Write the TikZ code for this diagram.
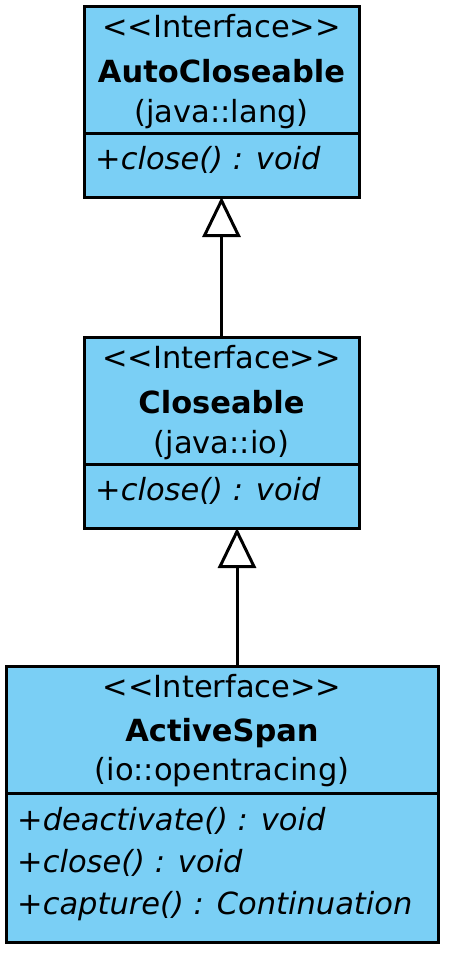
\documentclass[tikz,border=0pt]{standalone}
\usepackage{fontspec}
\setmainfont{DejaVu Sans}
\usetikzlibrary{arrows.meta}
\definecolor{umlblue}{RGB}{122,207,245}

\begin{document}
\begin{tikzpicture}[x=1pt,y=-1pt,
  classbox/.style={draw,line width=3pt,fill=umlblue,inner sep=0pt,outer sep=0pt},
  stereo/.style={anchor=base,inner sep=0pt,font=\fontsize{30.5}{36}\selectfont},
  cname/.style={stereo,font=\fontsize{30.5}{36}\selectfont\bfseries},
  oper/.style={anchor=base west,inner sep=0pt,font=\fontsize{30.5}{36}\selectfont\itshape},
  sepline/.style={line width=3pt},
  realize/.style={line width=3pt,-{Triangle[open,length=40pt,width=38pt,fill=white]}}]
  \useasboundingbox (0,0) rectangle (450,954);

  % AutoCloseable
  \node[classbox,minimum width=275pt,minimum height=191pt] (ac) at (221.5,101.5) {};
  \coordinate (acsep) at (0,133);
  \path[draw,sepline] (ac.west |- acsep) -- (ac.east |- acsep);
  \node[stereo] (acst) at (221.5,37) {<\kern0pt<Interface>\kern0pt>};
  \node[cname] (acnm) at (221.5,82) {AutoCloseable};
  \node[stereo] (acpk) at (221.5,122) {(java::lang)};
  \node[oper] (acop) at (95,169) {+close() : void};

  % Closeable
  \node[classbox,minimum width=275pt,minimum height=191pt] (cl) at (221.5,432.5) {};
  \coordinate (clsep) at (0,464);
  \path[draw,sepline] (cl.west |- clsep) -- (cl.east |- clsep);
  \node[stereo] (clst) at (221.5,368) {<\kern0pt<Interface>\kern0pt>};
  \node[cname] (clnm) at (221.5,413) {Closeable};
  \node[stereo] (clpk) at (221.5,453) {(java::io)};
  \node[oper] (clop) at (95,500) {+close() : void};

  % ActiveSpan
  \node[classbox,minimum width=432pt,minimum height=276pt] (as) at (222,804) {};
  \coordinate (assep) at (0,793);
  \path[draw,sepline] (as.west |- assep) -- (as.east |- assep);
  \node[stereo] (asst) at (222,697) {<\kern0pt<Interface>\kern0pt>};
  \node[cname] (asnm) at (222,741) {ActiveSpan};
  \node[stereo] (aspk) at (222,780) {(io::opentracing)};
  \node[oper] (asop1) at (17,830) {+deactivate() : void};
  \node[oper] (asop2) at (17,872) {+close() : void};
  \node[oper] (asop3) at (17,914) {+capture() : Continuation};

  % generalisations
  \draw[realize] (cl.north) -- (ac.south);
  \draw[realize] ([xshift=15pt]as.north) -- ([xshift=15pt]as.north |- cl.south);
\end{tikzpicture}
\end{document}
